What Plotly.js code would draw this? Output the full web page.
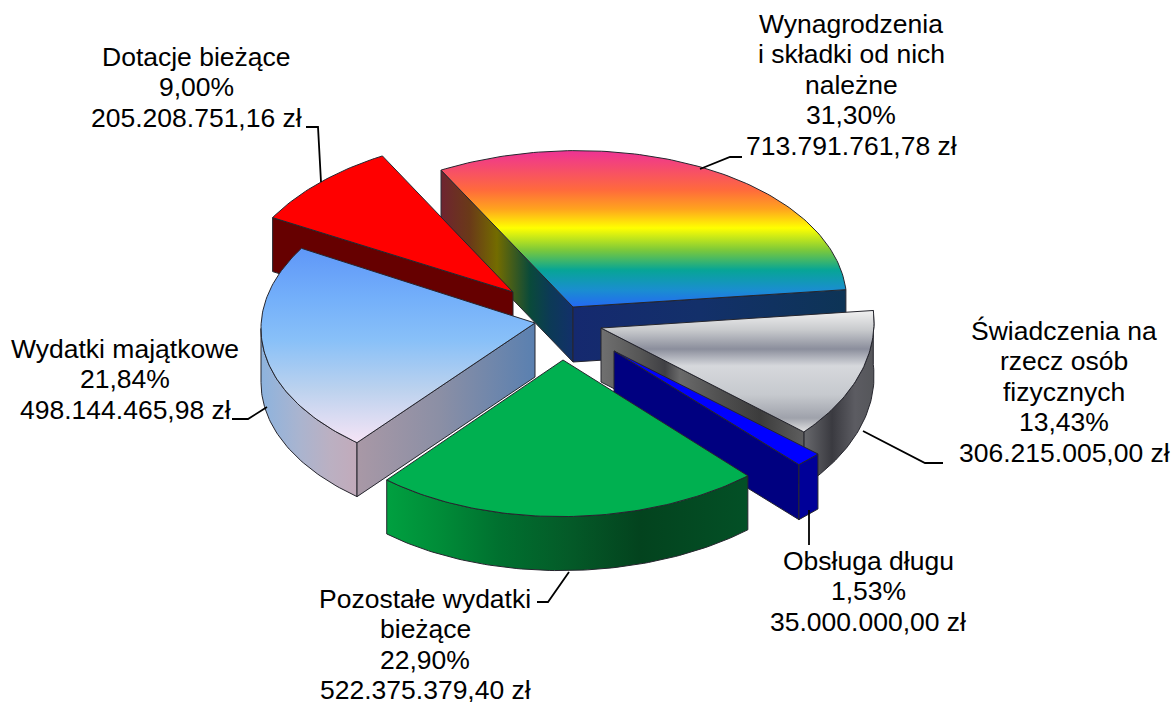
<!DOCTYPE html>
<html><head><meta charset="utf-8">
<script src="https://cdn.plot.ly/plotly-3.0.1.min.js"></script>
<style>html,body{margin:0;padding:0;background:#fff}#c{width:1174px;height:702px}</style>
</head><body><div id="c"></div>
<script>
// ---- data ----
const categories = ["Wynagrodzenia\ni składki od nich\nnależne","Świadczenia na\nrzecz osób\nfizycznych","Obsługa długu","Pozostałe wydatki\nbieżące","Wydatki majątkowe","Dotacje bieżące"];
const amounts = [713791761.78, 306215005.00, 35000000.00, 522375379.40, 498144465.98, 205208751.16];
const amountLabels = ["713.791.761,78 zł","306.215.005,00 zł","35.000.000,00 zł","522.375.379,40 zł","498.144.465,98 zł","205.208.751,16 zł"];
const percentLabels = ["31,30%","13,43%","1,53%","22,90%","21,84%","9,00%"];

// ---- projection and style of the tilted, exploded pie ----
const ROT = -27, RY = 156, SHEAR = -0.019, FONT = 'Liberation Sans, Arial, sans-serif', FS = 26.5, LH = 30.4;
const grad = (type,start,stop,stops)=>({type,start,stop,colorscale:stops.map(s=>[(s[0]-start)/(stop-start),s[1]])});
const geom = [
 {cx:567.7,cy:306.7,rx:279,ax:573,ay:307,d:55},
 {cx:624,cy:327,rx:250,ax:601,ay:328,d:54},
 {cx:623,cy:349.3,rx:271,ax:614,ay:351,d:55},
 {cx:570,cy:360.5,rx:274,ax:563,ay:360,d:54},
 {cx:551,cy:323,rx:290,ax:535,ay:323,d:54},
 {cx:505,cy:292.6,rx:270,ax:513,ay:292,d:54}
];
const S = amounts.reduce((a,b)=>a+b,0);
let acc = ROT;
const spans = amounts.map(v=>{const a=acc; acc+=v/S*360; return [a,acc];});
const pt = (g,deg)=>{const r=deg*Math.PI/180, dx=g.rx*Math.sin(r);
  return [g.cx+dx, g.cy-RY*Math.cos(r)+SHEAR*dx];};
const arc = (g,a,b)=>{const out=[],n=Math.max(4,Math.ceil(Math.abs(b-a)));
  for(let i=0;i<=n;i++) out.push(pt(g,a+(b-a)*i/n)); return out;};

const traces = [];
function poly(pts,style){
  traces.push(Object.assign({type:'scatter',mode:'lines',x:pts.map(p=>p[0]).concat(pts[0][0]),y:pts.map(p=>p[1]).concat(pts[0][1]),
    fill:'toself',hoverinfo:'skip',showlegend:false,line:{color:style.line||'#26262e',width:1}},style.fill));
}
const solid = c=>({fillcolor:c});
const gf = (t,a,b,s)=>({fillgradient:grad(t,a,b,s)});
function radial(i,deg,fill){const g=geom[i],p=pt(g,deg);
  poly([[g.ax,g.ay],p,[p[0],p[1]+g.d],[g.ax,g.ay+g.d]],{fill});}
function outer(i,a,b,fill){const g=geom[i],upper=arc(g,a,b);
  poly(upper.concat(upper.slice().reverse().map(p=>[p[0],p[1]+g.d])),{fill});}
function topFace(i,fill){const g=geom[i];
  poly([[g.ax,g.ay]].concat(arc(g,spans[i][0],spans[i][1])),{fill});}

// Wynagrodzenia
radial(0,spans[0][0],gf('horizontal',441,573,[[441,'#6e2430'],[470,'#6a3a18'],[497,'#736c00'],[530,'#0a4a3a'],[550,'#0c3a56'],[573,'#12306a']]));
radial(0,spans[0][1],gf('horizontal',573,846,[[573,'#15296f'],[700,'#13306a'],[846,'#0d3456']]));
topFace(0,gf('vertical',151,307,[[151,'#ee3394'],[190,'#ff6a3c'],[209,'#ffa31e'],[228,'#ffff00'],[250,'#7cc93a'],[270,'#07a596'],[290,'#1a8ed0'],[307,'#2468f4']]));
// Dotacje
radial(5,spans[5][0],solid('#660000'));
topFace(5,solid('#ff0000'));
// Wydatki majątkowe
outer(4,spans[4][0],270,gf('horizontal',261,359,[[261,'#8db3de'],[300,'#aab4cf'],[330,'#bbb0c2'],[359,'#c2aaba']]));
radial(4,spans[4][0],gf('horizontal',359,535,[[359,'#a898a6'],[440,'#8b8fa5'],[535,'#5a80b0']]));
topFace(4,gf('vertical',248,443,[[248,'#5f97f8'],[300,'#74b0fa'],[340,'#88c0f8'],[390,'#bcd2ee'],[443,'#f6e4f6']]));
// Świadczenia
outer(1,spans[1][0],spans[1][1],gf('horizontal',805,875,[[805,'#66676b'],[832,'#3a3a40'],[855,'#5c5c62'],[875,'#55565a']]));
radial(1,spans[1][1],gf('horizontal',601,805,[[601,'#707070'],[640,'#565656'],[665,'#404044'],[680,'#6a6a6a'],[720,'#505050'],[760,'#3c3c3c'],[805,'#5f5f5f']]));
topFace(1,gf('vertical',311,433,[[311,'#f0f0f0'],[330,'#c8cacd'],[349,'#8b8e9c'],[366,'#d6d8dc'],[395,'#c6c9ce'],[418,'#9fa2ab'],[433,'#e8e8e8']]));
// Obsługa długu
radial(2,spans[2][1],solid('#000080'));
outer(2,spans[2][0],spans[2][1],solid('#000098'));
topFace(2,solid('#0000ff'));
// Pozostałe
outer(3,spans[3][0],spans[3][1],gf('horizontal',387,748,[[387,'#00a040'],[440,'#008c38'],[500,'#00702f'],[570,'#045a28'],[640,'#03431e'],[748,'#035026']]));
topFace(3,solid('#00b050'));

// leader lines
const leaders = [
 [[700,169],[730,157],[742,157]],
 [[863,431],[925,463],[943,463]],
 [[809,510],[809,545]],
 [[569,572],[548,602],[537,602]],
 [[267,407],[248,419],[232,419]],
 [[321,182],[318,127],[306,127]]
];
leaders.forEach(l=>traces.push({type:'scatter',mode:'lines',x:l.map(p=>p[0]),y:l.map(p=>p[1]),hoverinfo:'skip',showlegend:false,line:{color:'#000',width:1.8}}));

// labels
const labelAt = [[851,24],[1064,331],[868,561],[425,599],[125,349],[196,57]];
const annotations = [];
categories.forEach((c,i)=>{
  c.split('\n').concat(percentLabels[i],amountLabels[i]).forEach((t,j)=>annotations.push({
    x:labelAt[i][0],y:labelAt[i][1]+j*LH,xref:'x',yref:'y',text:t,showarrow:false,xanchor:'center',yanchor:'middle',
    font:{family:FONT,size:FS,color:'#000'}}));
});

Plotly.newPlot('c',traces,{
  width:1174,height:702,margin:{l:0,r:0,t:0,b:0},paper_bgcolor:'#fff',plot_bgcolor:'#fff',showlegend:false,
  xaxis:{range:[0,1174],visible:false,fixedrange:true},
  yaxis:{range:[702,0],visible:false,fixedrange:true},
  annotations
},{displayModeBar:false,staticPlot:true});
</script></body></html>
